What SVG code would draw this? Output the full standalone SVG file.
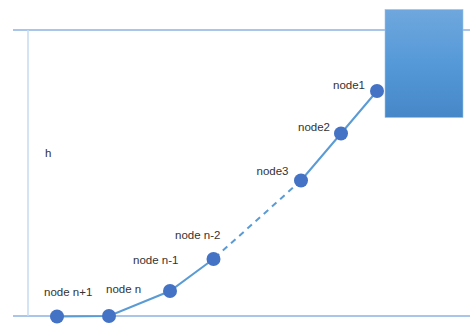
<svg xmlns="http://www.w3.org/2000/svg" width="471" height="324" viewBox="0 0 471 324">
  <defs>
    <linearGradient id="boxFill" x1="0" y1="0" x2="0" y2="1">
      <stop offset="0" stop-color="#6fa7dd"/>
      <stop offset="0.5" stop-color="#5599d8"/>
      <stop offset="1" stop-color="#4687c8"/>
    </linearGradient>
  </defs>
  <style>
    .guide { stroke: #8db3e2; stroke-width: 1.5; fill: none; }
    .height { stroke: #c5dcf2; stroke-width: 1.5; fill: none; }
    .link { stroke: #5b9bd5; stroke-width: 2; fill: none; stroke-linecap: round; }
    .dash { stroke-dasharray: 6 5; stroke-linecap: butt; }
    .dot { fill: #4472c4; }
    text { font-family: "Liberation Sans", Arial, sans-serif; font-size: 11.5px; fill: #333333; }
  </style>

  <!-- reference lines -->
  <g id="guides">
    <line class="guide" x1="13" y1="30" x2="470" y2="30"/>
    <line class="guide" x1="13" y1="316" x2="470" y2="316"/>
    <line class="height" x1="28" y1="30" x2="28" y2="316"/>
    <text x="45" y="157">h</text>
  </g>

  <!-- anchor block -->
  <g id="block">
    <rect x="385" y="9.5" width="78" height="108" fill="url(#boxFill)" stroke="#9cc2e8" stroke-width="0.6"/>
  </g>

  <!-- chain connectors -->
  <g id="connectors">
    <polyline class="link" points="377,91 341,133.5 301,180.5"/>
    <line class="link dash" x1="301" y1="180.5" x2="213.5" y2="259"/>
    <polyline class="link" points="213.5,259 170,291 109,316 57,316.5"/>
  </g>

  <g id="node1"><circle class="dot" cx="377" cy="91" r="7"/><text x="333" y="89">node1</text></g>
  <g id="node2"><circle class="dot" cx="341" cy="133.5" r="7"/><text x="298" y="131">node2</text></g>
  <g id="node3"><circle class="dot" cx="301" cy="180.5" r="7"/><text x="256.5" y="174.5">node3</text></g>
  <g id="node-n-2"><circle class="dot" cx="213.5" cy="259" r="7"/><text x="175" y="238.5">node n-2</text></g>
  <g id="node-n-1"><circle class="dot" cx="170" cy="291" r="7"/><text x="133" y="263.5">node n-1</text></g>
  <g id="node-n"><circle class="dot" cx="109" cy="316" r="7"/><text x="106" y="292.5">node n</text></g>
  <g id="node-n-plus-1"><circle class="dot" cx="57" cy="316.5" r="7"/><text x="44" y="296">node n+1</text></g>
</svg>
